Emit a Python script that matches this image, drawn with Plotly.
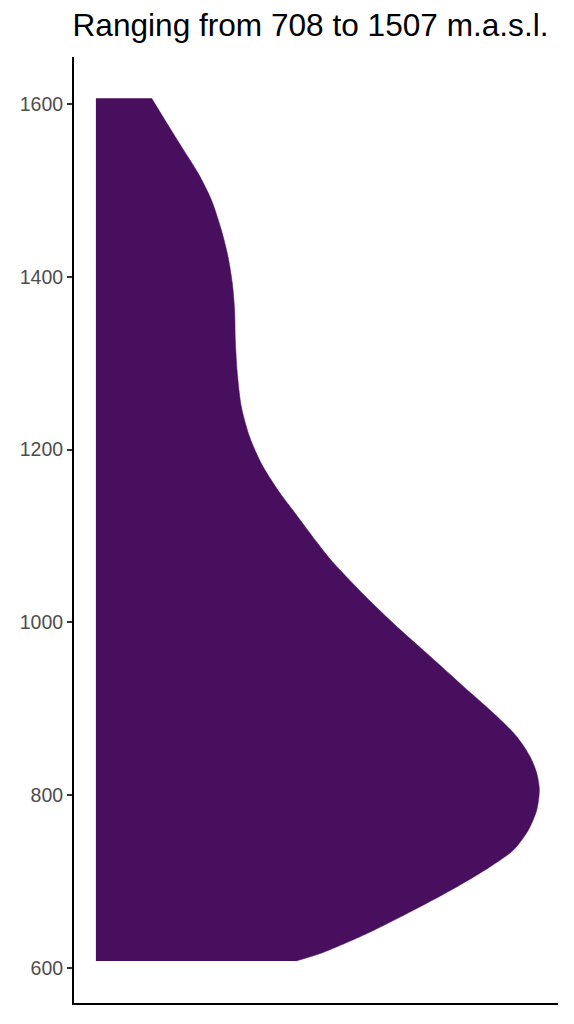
import plotly.graph_objects as go

# Elevation (m.a.s.l.) and relative density (max = 1) of the half-violin outline,
# read from the reference, from the lowest to the highest elevation
elevation = [607.8, 616.7, 639.8, 666.8, 693.8, 717.0, 736.3, 759.5, 782.7, 805.8,
             825.2, 844.4, 867.6, 894.7, 925.5, 960.2, 991.1, 1025.9,
             1072.2, 1091.5, 1122.4, 1153.3, 1184.2, 1215.0, 1249.8, 1288.4,
             1327.0, 1361.8, 1392.7, 1423.5, 1454.4, 1489.2, 1520.1, 1550.9,
             1581.8, 1606.9]
density = [0.4507, 0.5067, 0.6114, 0.7159, 0.8132, 0.8879, 0.9402, 0.9738, 0.9926,
           0.9984, 0.9926, 0.9776, 0.9478, 0.8953, 0.8280, 0.7534, 0.6861, 0.6150,
           0.5291, 0.4993, 0.4545, 0.4096, 0.3722, 0.3460, 0.3274, 0.3184,
           0.3139, 0.3123, 0.3072, 0.2975, 0.2825, 0.2601, 0.2303, 0.1928, 0.1554,
           0.1256]

y_ticks = [600, 800, 1000, 1200, 1400, 1600]
title_text = "Ranging from 708 to 1507 m.a.s.l."

fill_color = "#480F5E"

fig = go.Figure()
fig.add_trace(go.Scatter(
    x=density, y=elevation, mode="lines",
    line=dict(color=fill_color, width=0.5, shape="spline", smoothing=0.8),
    fill="tozerox", fillcolor=fill_color, hoverinfo="skip", showlegend=False,
))

fig.update_layout(
    width=574, height=1024,
    margin=dict(l=64, r=24, t=49, b=29),
    paper_bgcolor="white", plot_bgcolor="white",
    font=dict(family="Liberation Sans, Arial, sans-serif"),
    title=dict(text=title_text, x=302.5 / 574, xanchor="center",
               y=1 - 16.5 / 1024, yanchor="middle", yref="container",
               font=dict(size=31.6, color="black")),
    xaxis=dict(range=[-0.0493, 1.0404], showgrid=False, zeroline=False,
               showticklabels=False, ticks="", showline=True,
               linecolor="black", linewidth=2),
    yaxis=dict(range=[559.1, 1654.8], tickvals=y_ticks, showgrid=False,
               zeroline=False, showline=True, linecolor="black", linewidth=2,
               ticks="outside", ticklen=5, tickwidth=1.5, tickcolor="#333333",
               tickfont=dict(size=19.5, color="#4D4D4D")),
)

fig.write_html("out.html")
